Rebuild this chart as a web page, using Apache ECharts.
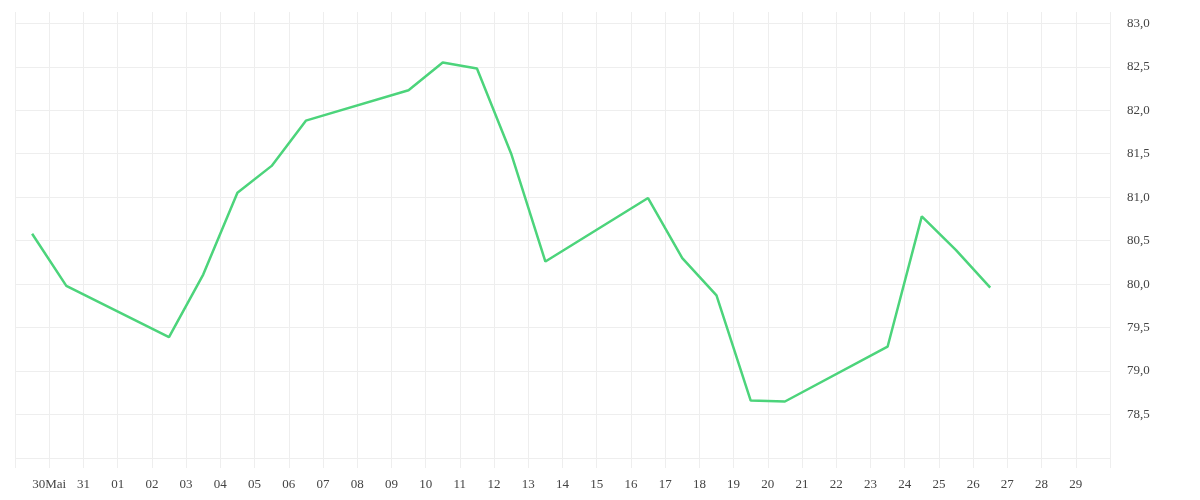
<!DOCTYPE html>
<html>
<head>
<meta charset="utf-8">
<script src="https://cdn.jsdelivr.net/npm/echarts@6/dist/echarts.min.js"></script>
<style>
  html, body { margin: 0; padding: 0; background: #fff; }
  #chart { width: 1200px; height: 500px; }
</style>
</head>
<body>
<div id="chart"></div>
<script>
// Day offsets from 29 May (midday points), and the values
const dayOffsets = [0.5, 1.5, 4.5, 5.5, 6.5, 7.5, 8.5, 11.5, 12.5, 13.5, 14.5, 15.5, 18.5, 19.5, 20.5, 21.5, 22.5, 25.5, 26.5, 27.5, 28.5];
const values = [80.58, 79.98, 79.39, 80.11, 81.05, 81.36, 81.88, 82.23, 82.55, 82.48, 81.50, 80.26, 80.99, 80.30, 79.87, 78.66, 78.65, 79.28, 80.78, 80.39, 79.96];
const tickLabels = ['', '30Mai', '31', '01', '02', '03', '04', '05', '06', '07', '08', '09', '10', '11', '12', '13', '14', '15', '16', '17', '18', '19', '20', '21', '22', '23', '24', '25', '26', '27', '28', '29', ''];

const seriesData = dayOffsets.map((d, i) => [d, values[i]]);
const gridColor = '#eeeeee';
const labelFont = 'Liberation Serif';

const chart = echarts.init(document.getElementById('chart'), null, { renderer: 'canvas' });
chart.setOption({
  animation: false,
  backgroundColor: '#ffffff',
  grid: { left: 15, right: 90, top: 12, bottom: 42, containLabel: false, outerBoundsMode: 'none' },
  xAxis: {
    type: 'value',
    min: 0,
    max: tickLabels.length - 1,
    interval: 1,
    axisLine: { show: false },
    axisTick: { show: true, length: 10, lineStyle: { color: gridColor } },
    splitLine: { show: true, lineStyle: { color: gridColor, width: 1 } },
    axisLabel: {
      margin: 20,
      color: '#444',
      fontFamily: labelFont,
      fontSize: 13,
      showMinLabel: true,
      showMaxLabel: true,
      formatter: v => tickLabels[Math.round(v)] || ''
    }
  },
  yAxis: {
    type: 'value',
    position: 'right',
    min: 78,
    max: 83.13,
    splitNumber: 10,
    axisLine: { show: false },
    axisTick: { show: false },
    splitLine: { show: true, showMinLine: true, showMaxLine: false, lineStyle: { color: gridColor, width: 1 } },
    axisLabel: {
      margin: 17,
      color: '#444',
      fontFamily: labelFont,
      fontSize: 13,
      showMinLabel: false,
      showMaxLabel: false,
      formatter: v => v.toFixed(1).replace('.', ',')
    }
  },
  series: [{
    type: 'line',
    data: seriesData,
    showSymbol: false,
    symbol: 'none',
    lineStyle: { color: '#4cd47b', width: 2.5 },
    itemStyle: { color: '#4cd47b' }
  }]
});
</script>
</body>
</html>
